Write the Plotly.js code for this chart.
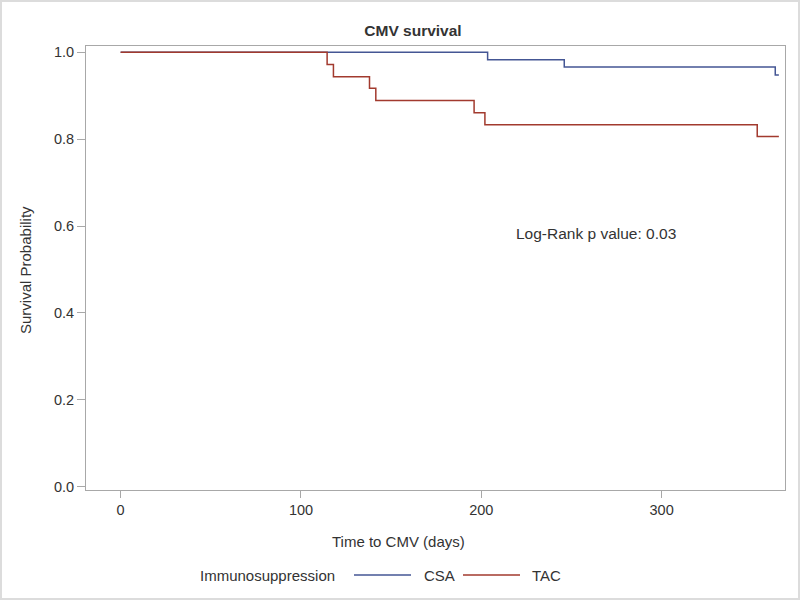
<!DOCTYPE html>
<html>
<head>
<meta charset="utf-8">
<script src="https://cdn.plot.ly/plotly-3.0.1.min.js"></script>
<style>
  html, body { margin: 0; padding: 0; background: #fff; }
  #wrap { position: relative; width: 800px; height: 600px; }
  #chart { width: 800px; height: 600px; }
  #frame { position: absolute; left: 0; top: 0; width: 800px; height: 600px; box-sizing: border-box; border: 2px solid #dcdcdc; pointer-events: none; }
</style>
</head>
<body>
<div id="wrap"><div id="chart"></div><div id="frame"></div></div>
<script>
// ---- data ----
const seriesNames = ["CSA", "TAC"];
const csaTime = [0, 203.5, 246, 363, 365];
const csaSurv = [1.0, 0.983, 0.966, 0.948, 0.948];
const tacTime = [0, 114.5, 118, 138, 141.5, 196, 202, 353, 365];
const tacSurv = [1.0, 0.972, 0.944, 0.917, 0.889, 0.861, 0.833, 0.806, 0.806];
const xTicks = [0, 100, 200, 300];
const yTicks = [0, 0.2, 0.4, 0.6, 0.8, 1.0];
const chartTitle = "CMV survival";
const xTitle = "Time to CMV (days)";
const yTitle = "Survival Probability";
const legendTitle = "Immunosuppression";
const noteText = "Log-Rank p value: 0.03";

// ---- styles ----
const colors = ["#445694", "#A23A2E"];
const FONT = "Arial, 'Liberation Sans', sans-serif";
const TXT = "#333333";
const AXC = "#a8a8a8";

// plot area in pixels
const L = 86, R = 785, T = 46, B = 490;
const W = 800, H = 600;
const px = x => (x - L) / (R - L);
const py = y => (B - y) / (B - T);

const traces = [
  {x: csaTime, y: csaSurv, name: seriesNames[0], mode: "lines", line: {shape: "hv", color: colors[0], width: 1.5}, showlegend: false},
  {x: tacTime, y: tacSurv, name: seriesNames[1], mode: "lines", line: {shape: "hv", color: colors[1], width: 1.5}, showlegend: false}
];

const legY = py(575);
const layout = {
  width: W, height: H,
  margin: {l: L, r: W - R, t: T, b: H - B, pad: 0},
  paper_bgcolor: "#fff", plot_bgcolor: "#fff",
  font: {family: FONT, size: 14.5, color: TXT},
  title: {text: "<b>" + chartTitle + "</b>", x: px(413), xref: "paper", xanchor: "center", y: 1 - 31 / H, yref: "container", yanchor: "middle", font: {family: FONT, size: 15.5, color: TXT}},
  xaxis: {range: [-19.2, 368.4], tickvals: xTicks, ticks: "outside", ticklen: 7, tickcolor: AXC, tickwidth: 1,
          showline: true, mirror: true, linecolor: AXC, linewidth: 1, showgrid: false, zeroline: false,
          tickfont: {family: FONT, size: 14.5, color: TXT}},
  yaxis: {range: [-0.0076, 1.0145], tickvals: yTicks, tickformat: ".1f", ticks: "outside", ticklen: 8, tickcolor: AXC, tickwidth: 1,
          showline: true, mirror: true, linecolor: AXC, linewidth: 1, showgrid: false, zeroline: false,
          tickfont: {family: FONT, size: 14.5, color: TXT}},
  annotations: [
    {text: yTitle, xref: "paper", yref: "paper", x: px(25), y: py(270), textangle: -90, showarrow: false, xanchor: "center", yanchor: "middle", font: {size: 15}},
    {text: xTitle, xref: "paper", yref: "paper", x: px(398), y: py(541), showarrow: false, xanchor: "center", yanchor: "middle", font: {size: 15}},
    {text: noteText, xref: "paper", yref: "paper", x: px(514), y: py(233), showarrow: false, xanchor: "left", yanchor: "middle", font: {size: 15.5}},
    {text: legendTitle, xref: "paper", yref: "paper", x: px(198), y: legY, showarrow: false, xanchor: "left", yanchor: "middle", font: {size: 15}},
    {text: seriesNames[0], xref: "paper", yref: "paper", x: px(422), y: legY, showarrow: false, xanchor: "left", yanchor: "middle", font: {size: 15}},
    {text: seriesNames[1], xref: "paper", yref: "paper", x: px(530), y: legY, showarrow: false, xanchor: "left", yanchor: "middle", font: {size: 15}}
  ],
  shapes: [
    {type: "line", xref: "paper", yref: "paper", x0: px(354), x1: px(411), y0: legY, y1: legY, line: {color: colors[0], width: 1.5}},
    {type: "line", xref: "paper", yref: "paper", x0: px(463), x1: px(520), y0: legY, y1: legY, line: {color: colors[1], width: 1.5}}
  ]
};

Plotly.newPlot("chart", traces, layout, {displayModeBar: false, staticPlot: true});
</script>
</body>
</html>
